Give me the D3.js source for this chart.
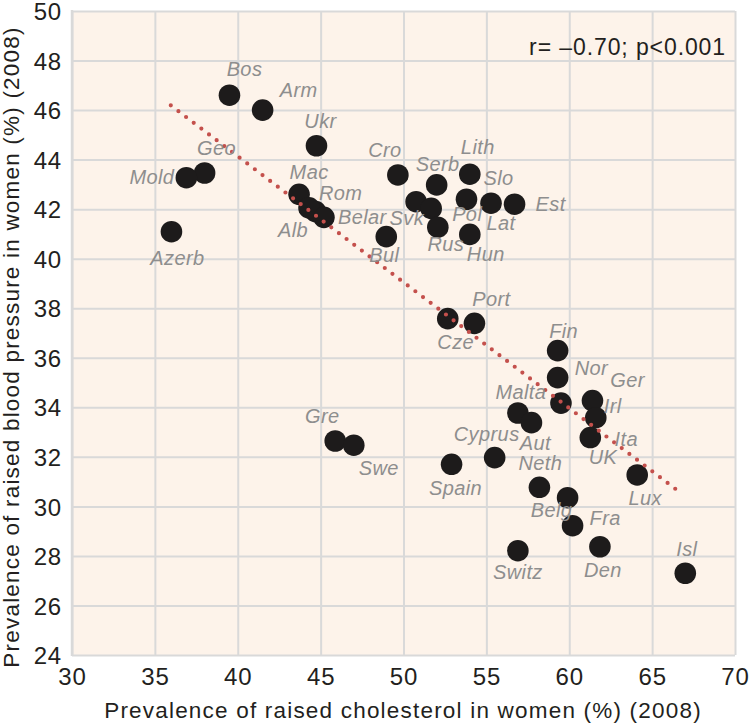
<!DOCTYPE html>
<html>
<head>
<meta charset="utf-8">
<script src="https://cdn.jsdelivr.net/npm/d3@7"></script>
<style>
  html, body { margin: 0; padding: 0; background: #ffffff; }
  svg { display: block; font-family: "Liberation Sans", Arial, Helvetica, sans-serif; }
</style>
</head>
<body>
<svg id="chart" width="750" height="728"></svg>
<script>
// ---------------- data ----------------
const countries = ["Bos","Arm","Ukr","Geo","Mold","Azerb","Mac","Rom","Alb","Belar",
  "Cro","Serb","Lith","Slo","Est","Svk","Pol","Lat","Rus","Hun","Bul",
  "Port","Cze","Fin","Nor","Ger","Irl","Malta","Aut","Cyprus","Ita","UK",
  "Spain","Neth","Belg","Fra","Den","Switz","Lux","Isl","Gre","Swe"];
const cholesterol = [39.5,41.5,44.75,38.0,36.9,36.0,43.7,44.7,44.3,45.2,
  49.66,52.0,54.0,53.8,56.7,50.76,51.67,55.28,52.07,54.0,48.96,
  54.28,52.67,59.3,59.3,61.4,61.6,56.9,57.72,55.5,61.27,59.5,
  52.9,58.2,59.9,60.2,61.85,56.9,64.1,67.0,45.88,47.0];
const bloodPressure = [46.6,46.0,44.56,43.46,43.27,41.09,42.6,41.9,42.05,41.67,
  43.38,42.98,43.41,42.4,42.2,42.3,42.03,42.24,41.27,40.98,40.89,
  37.39,37.58,36.29,35.2,34.27,33.58,33.77,33.38,31.97,32.78,34.17,
  31.70,30.77,30.35,29.22,28.37,28.21,31.27,27.30,32.64,32.47];
const trendX = [35.96, 66.83];
const trendY = [46.19, 30.49];
const xTicks = [30,35,40,45,50,55,60,65,70];
const yTicks = [24,26,28,30,32,34,36,38,40,42,44,46,48,50];
const xTitle = "Prevalence of raised cholesterol in women (%) (2008)";
const yTitle = "Prevalence of raised blood pressure in women (%) (2008)";
const statText = "r= \u20130.70; p<0.001";

// ---------------- label placement (layout only) ----------------
// [dx, dy, anchor] relative to point centre
const labelPos = {
  Bos:[15,-19,"middle"], Arm:[36,-13,"middle"], Ukr:[4,-18,"middle"], Geo:[12,-18,"middle"],
  Mold:[-12,6,"end"], Azerb:[6,33,"middle"], Mac:[10,-15,"middle"], Rom:[25,-12,"middle"],
  Alb:[-16,29,"middle"], Belar:[14,7,"start"], Cro:[-13,-18,"middle"], Serb:[1,-14,"middle"],
  Lith:[8,-20,"middle"], Slo:[32,-14,"middle"], Est:[21,7,"start"], Svk:[8,23,"end"],
  Pol:[36,13,"middle"], Lat:[10,27,"middle"], Rus:[8,24,"middle"], Hun:[16,27,"middle"],
  Bul:[-2,25,"middle"], Port:[17,-17,"middle"], Cze:[8,30,"middle"], Fin:[6,-13,"middle"],
  Nor:[17,-3,"start"], Ger:[35,-14,"middle"], Irl:[8,-5,"start"], Malta:[3,-14,"middle"],
  Aut:[4,27,"middle"], Cyprus:[-8,-17,"middle"], Ita:[36,8,"middle"], UK:[42,61,"middle"],
  Spain:[4,31,"middle"], Neth:[1,-17,"middle"], Belg:[-16,19,"middle"], Fra:[17,-1,"start"],
  Den:[3,30,"middle"], Switz:[0,28,"middle"], Lux:[8,30,"middle"], Isl:[1.5,-17,"middle"],
  Gre:[-13,-18,"middle"], Swe:[25,30,"middle"]
};

// ---------------- chart ----------------
const svg = d3.select("#chart");
const plotL = 72, plotR = 735, plotT = 11, plotB = 655;
const x = d3.scaleLinear().domain([30,70]).range([plotL,plotR]);
const y = d3.scaleLinear().domain([24,50]).range([plotB,plotT]);

svg.append("rect").attr("x",plotL).attr("y",plotT)
  .attr("width",plotR-plotL).attr("height",plotB-plotT).attr("fill","#fdf3ea");

const gridColor = "#d9d9d9";
const gx = svg.append("g").attr("transform",`translate(0,${plotB})`)
  .call(d3.axisBottom(x).tickValues(xTicks).tickSize(-(plotB-plotT)).tickPadding(6).tickFormat(d3.format("d")));
gx.select(".domain").remove();
gx.selectAll(".tick line").attr("stroke",gridColor).attr("stroke-width",2);
gx.selectAll(".tick text").attr("font-size",24).attr("fill","#231f20")
  .attr("font-family","'Liberation Sans', Arial, sans-serif").attr("letter-spacing","0.8px")
  .attr("y",30).attr("dy",0);

const gy = svg.append("g").attr("transform",`translate(${plotL},0)`)
  .call(d3.axisLeft(y).tickValues(yTicks).tickSize(-(plotR-plotL)).tickPadding(10).tickFormat(d3.format("d")));
gy.select(".domain").remove();
gy.selectAll(".tick line").attr("stroke",gridColor).attr("stroke-width",2);
gy.selectAll(".tick text").attr("font-size",24).attr("fill","#231f20")
  .attr("font-family","'Liberation Sans', Arial, sans-serif").attr("letter-spacing","0.8px")
  .attr("x",-10).attr("dy","0.36em");

svg.append("line").attr("x1",plotL).attr("x2",plotL).attr("y1",plotT-1).attr("y2",plotB+1)
  .attr("stroke",gridColor).attr("stroke-width",2.5);

// points
const pts = countries.map((c,i)=>({name:c, cx:cholesterol[i], bp:bloodPressure[i]}));
svg.append("g").selectAll("circle").data(pts).join("circle")
  .attr("cx",d=>x(d.cx)).attr("cy",d=>y(d.bp)).attr("r",10.8)
  .attr("fill","#1d1b1b");

// trend line (dotted)
const line = d3.line().x(d=>x(d[0])).y(d=>y(d[1]));
svg.append("path").datum(trendX.map((v,i)=>[v,trendY[i]]))
  .attr("d",line).attr("fill","none").attr("stroke","#c4504c")
  .attr("stroke-width",4.2).attr("stroke-linecap","round")
  .attr("stroke-dasharray","0 9.6");

// labels
svg.append("g").selectAll("text").data(pts).join("text")
  .attr("x",d=>x(d.cx)+labelPos[d.name][0])
  .attr("y",d=>y(d.bp)+labelPos[d.name][1])
  .attr("text-anchor",d=>labelPos[d.name][2])
  .attr("font-size",20).attr("font-style","italic").attr("fill","#8e8e8e")
  .attr("letter-spacing","0.4px")
  .text(d=>d.name);

// stat annotation
svg.append("text").attr("x",726).attr("y",55).attr("text-anchor","end")
  .attr("font-size",23).attr("fill","#231f20").attr("letter-spacing","0.9px").text(statText);

// axis titles
svg.append("text").attr("x",403).attr("y",718).attr("text-anchor","middle")
  .attr("font-size",22.5).attr("fill","#231f20").attr("letter-spacing","1.2px").text(xTitle);
svg.append("text").attr("transform",`translate(19,347) rotate(-90)`).attr("text-anchor","middle")
  .attr("font-size",22.5).attr("fill","#231f20").attr("letter-spacing","1.2px").text(yTitle);
</script>
</body>
</html>
